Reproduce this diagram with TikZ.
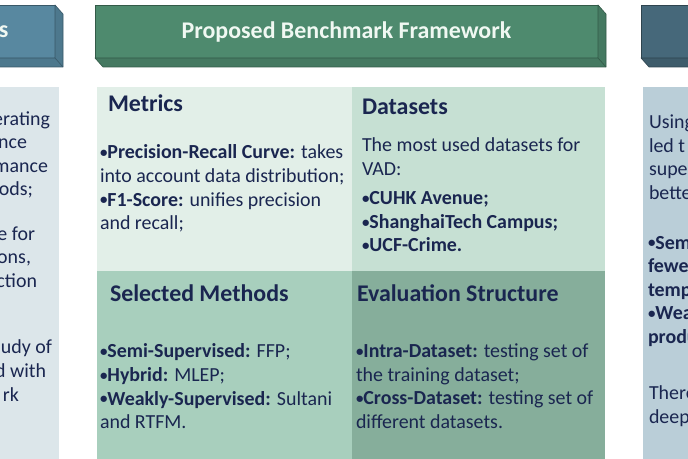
\documentclass[tikz,border=0pt]{standalone}
\usepackage{fontspec}
\setmainfont{Carlito}
\usepackage{xcolor}
\definecolor{hdrgreen}{RGB}{78,138,110}
\definecolor{hdrblue}{RGB}{88,136,160}
\definecolor{hdrteal}{RGB}{70,104,122}
\definecolor{metricsfill}{RGB}{226,239,232}
\definecolor{datasetsfill}{RGB}{198,224,211}
\definecolor{methodsfill}{RGB}{168,207,189}
\definecolor{evalfill}{RGB}{134,174,155}
\definecolor{leftfill}{RGB}{220,230,234}
\definecolor{rightfill}{RGB}{186,206,216}
\definecolor{textnavy}{RGB}{26,38,80}
\definecolor{titlewhite}{RGB}{240,248,242}
\usepackage{tikz}
\usetikzlibrary{positioning, calc}
\newcommand{\bul}{{\fontsize{15}{15}\selectfont\raisebox{1.2bp}{•}}}

\begin{document}
\begin{tikzpicture}[x=1bp, y=-1bp, every node/.style={inner sep=0pt, outer sep=0pt, text=textnavy},
    panel/.style={rectangle, anchor=north west},
    hdrface/.style={rectangle, draw, line width=0.6bp, anchor=north west, minimum height=53bp},
    heading/.style={anchor=base west, font=\fontsize{24}{28}\selectfont\bfseries},
    bodytext/.style={anchor=north west, align=left, font=\fontsize{20}{23.6}\selectfont}]
    \useasboundingbox (0,0) rectangle (688,459);

    \node [panel, fill=leftfill, minimum width=80bp, minimum height=380bp] (leftbody) at (-21,87) {};
    \node [panel, fill=metricsfill, minimum width=255bp, minimum height=184bp] (metrics) at (97,87) {};
    \node [panel, fill=datasetsfill, minimum width=253bp, minimum height=184bp, right=0pt of metrics] (datasets) {};
    \node [panel, fill=methodsfill, minimum width=255bp, minimum height=200bp, below=0pt of metrics] (methods) {};
    \node [panel, fill=evalfill, minimum width=253bp, minimum height=200bp, right=0pt of methods] (evaluation) {};
    \node [panel, fill=rightfill, minimum width=60bp, minimum height=380bp] (rightbody) at (643,87) {};

    \node [hdrface, fill=hdrblue, draw=hdrblue!65!black, minimum width=255bp] (lefthdr) at (-200,5) {};
    \node [hdrface, fill=hdrgreen, draw=hdrgreen!65!black, minimum width=503bp, text=titlewhite, font=\fontsize{24}{28}\selectfont\bfseries] (midhdr) at (95,5) {Proposed Benchmark Framework};
    \node [hdrface, fill=hdrteal, draw=hdrteal!65!black, minimum width=200bp] (righthdr) at (641,5) {};

    \foreach \hdr/\col in {lefthdr/hdrblue, midhdr/hdrgreen, righthdr/hdrteal}{
        \filldraw [fill=\col!88!black, draw=\col!65!black, line width=0.6bp, line join=round]
            (\hdr.north east) -- ++(8,9) -- ([shift={(8,9)}]\hdr.south east) -- ([shift={(8,9)}]\hdr.south west)
            -- (\hdr.south west) -- (\hdr.south east) -- cycle;
        \draw [\col!65!black, line width=0.6bp] (\hdr.south east) -- ++(8,9);
    }

    \node [heading, text=titlewhite] (lefttitle) at (-1,37.5) {s};

    \node [heading] (metricshead) at (108,112) {Metrics};
    \node [heading] (datasetshead) at (362,115) {Datasets};
    \node [heading] (methodshead) at (110,302) {Selected Methods};
    \node [heading] (evalhead) at (357,302) {Evaluation Structure};

    \node [bodytext] (metricstext) at (100,145) {\textbf{\bul Precision-Recall Curve:} takes\\into account data distribution;\\\textbf{\bul F1-Score:} unifies precision\\and recall;};
    \node [bodytext] (datasetstext) at (362,138) {The most used datasets for\\VAD:\\[6bp]\textbf{\bul CUHK Avenue;}\\\textbf{\bul ShanghaiTech Campus;}\\\textbf{\bul UCF-Crime.}};
    \node [bodytext] (methodstext) at (100,344) {\textbf{\bul Semi-Supervised:} FFP;\\\textbf{\bul Hybrid:} MLEP;\\\textbf{\bul Weakly-Supervised:} Sultani\\and RTFM.};
    \node [bodytext] (evaltext) at (356,344) {\textbf{\bul Intra-Dataset:} testing set of\\the training dataset;\\\textbf{\bul Cross-Dataset:} testing set of\\different datasets.};

    \foreach \txt/\xr/\yb [count=\i] in {{erating}/50/126, {nce}/27/149, {mance}/48/173, {hods;}/33/196,
        {e for}/35/241, {ions,}/31/264, {ction}/37/288, {udy of}/52/353, {d with}/46/377, {rk}/19/401}
        \node [anchor=base east, font=\fontsize{20}{23.6}\selectfont] (leftline\i) at (\xr,\yb) {\txt};

    \node [bodytext] (righttext) at (649,115) {Using\\led t\\supe\\bette};
    \node [bodytext, font=\fontsize{20}{23.6}\selectfont\bfseries] (rightbold) at (648,236) {\bul Sem\\fewe\\temp\\\bul Wea\\produ};
    \node [bodytext] (rightend) at (649,386) {There\\deep};
\end{tikzpicture}
\end{document}
